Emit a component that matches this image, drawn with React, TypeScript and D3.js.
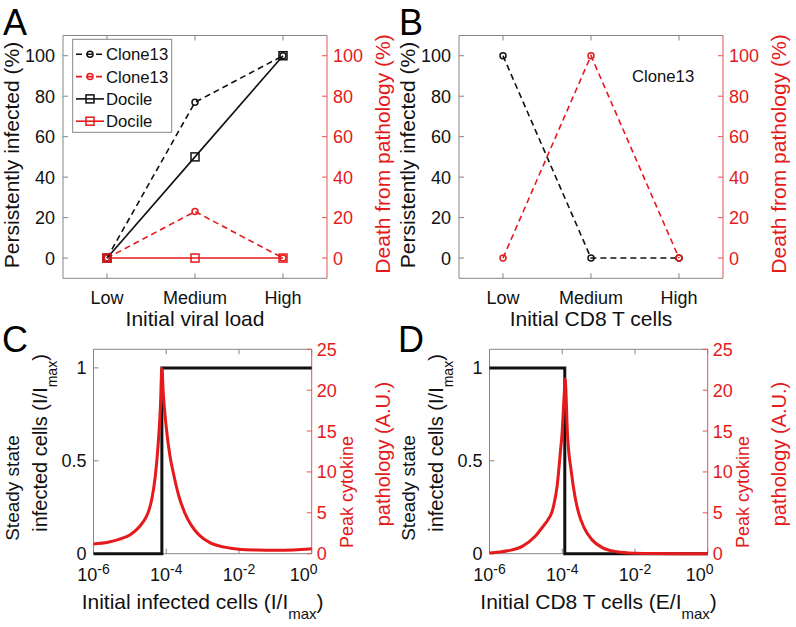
import React from "react";
import * as d3 from "d3";

// ---------- data ----------
const categories = ["Low", "Medium", "High"];
const aClone13Infected = [0, 77, 100];
const aClone13Death = [0, 23, 0];
const aDocileInfected = [0, 50, 100];
const aDocileDeath = [0, 0, 0];
const bClone13Infected = [100, 0, 0];
const bClone13Death = [0, 100, 0];
const pctTicks = [0, 20, 40, 60, 80, 100];

const logTicks = [-6, -4, -2, 0];
const steadyTicks = [0, 0.5, 1];
const cytokineTicks = [0, 5, 10, 15, 20, 25];

// panel C: initial infected cells (log10 exponent)
const cSteadyLogX = [-6, -4.12, -4.12, 0];
const cSteadyVal = [0, 0, 1, 1];
const cCytoLogX = [-6, -5.6, -5.3, -5.0, -4.8, -4.65, -4.5, -4.4, -4.3, -4.22, -4.16, -4.12, -4.08, -4.0, -3.9, -3.81, -3.65, -3.49, -3.3, -3.1, -2.8, -2.4, -2.0, -1.5, -1.0, -0.5, 0];
const cCytoVal = [1.2, 1.4, 1.75, 2.3, 3.0, 3.8, 5.0, 6.6, 9.5, 13.5, 18, 22.7, 19.5, 15.5, 12, 10, 7, 5, 3.4, 2.3, 1.35, 0.8, 0.55, 0.45, 0.42, 0.45, 0.6];

// panel D: initial CD8 T cells (log10 exponent)
const dSteadyLogX = [-6, -3.93, -3.93, 0];
const dSteadyVal = [1, 1, 0, 0];
const dCytoLogX = [-6, -5.5, -5.1, -4.75, -4.5, -4.4, -4.29, -4.23, -4.14, -4.1, -4.05, -4.0, -3.97, -3.94, -3.92, -3.9, -3.86, -3.75, -3.65, -3.55, -3.4, -3.2, -2.9, -2.5, -2.0, -1.5, 0];
const dCytoVal = [0.1, 0.35, 0.9, 2.1, 3.5, 4.1, 5, 6, 8.3, 10, 12.5, 15, 17.5, 20, 21.4, 20, 15, 10, 7, 5, 3.2, 1.8, 0.75, 0.25, 0.06, 0.01, 0];

// ---------- style ----------
const FONT = "'Liberation Sans', Arial, Helvetica, sans-serif";
const RED = "#e41a1c";
const BLACK = "#111";
const AXIS_GRAY = "#858585";
const AXIS_RED = "#e35454";
const TICK_LEN = 5;

type Series = {
  values: number[];
  axis: "left" | "right";
  color: string;
  dashed: boolean;
  marker: "circle" | "square";
  label: string;
};

function Marker({ x, y, kind, color }: { x: number; y: number; kind: string; color: string }) {
  if (kind === "circle")
    return <circle cx={x} cy={y} r={3} fill="none" stroke={color} strokeWidth={1.5} />;
  return <rect x={x - 4} y={y - 4} width={8} height={8} fill="none" stroke={color} strokeWidth={1.5} />;
}

function CategoryPanel({
  ox,
  letter,
  xLabel,
  series,
  showLegend,
  note,
}: {
  ox: number;
  letter: string;
  xLabel: string;
  series: Series[];
  showLegend: boolean;
  note?: string;
}) {
  const left = ox + 63;
  const right = ox + 327;
  const top = 35.5;
  const bottom = 278.3;
  const x = d3.scalePoint<string>().domain(categories).range([left, right]).padding(0.5);
  const yL = d3.scaleLinear().domain([-10, 110]).range([bottom, top]);
  const yR = d3.scaleLinear().domain([-10, 110]).range([bottom, top]);
  const fs = 18;
  return (
    <g fontFamily={FONT}>
      <text x={ox + 3} y={35} fontSize={36}>{letter}</text>
      <line x1={left} x2={right} y1={top} y2={top} stroke={AXIS_GRAY} />
      <line x1={left} x2={right} y1={bottom} y2={bottom} stroke={AXIS_GRAY} />
      <line x1={left} x2={left} y1={top} y2={bottom} stroke={AXIS_GRAY} />
      <line x1={right} x2={right} y1={top} y2={bottom} stroke={AXIS_RED} />
      {categories.map((c) => (
        <g key={c}>
          <line x1={x(c)} x2={x(c)} y1={bottom} y2={bottom - TICK_LEN} stroke={AXIS_GRAY} />
          <line x1={x(c)} x2={x(c)} y1={top} y2={top + TICK_LEN} stroke={AXIS_GRAY} />
          <text x={x(c)} y={304} fontSize={fs} textAnchor="middle" fill={BLACK}>{c}</text>
        </g>
      ))}
      {pctTicks.map((t) => (
        <g key={"l" + t}>
          <line x1={left} x2={left + TICK_LEN} y1={yL(t)} y2={yL(t)} stroke={AXIS_GRAY} />
          <text x={left - 8} y={yL(t) + 6.5} fontSize={fs} textAnchor="end" fill={BLACK}>{t}</text>
        </g>
      ))}
      {pctTicks.map((t) => (
        <g key={"r" + t}>
          <line x1={right} x2={right - TICK_LEN} y1={yR(t)} y2={yR(t)} stroke={AXIS_RED} />
          <text x={right + 6} y={yR(t) + 6.5} fontSize={fs} fill={RED}>{t}</text>
        </g>
      ))}
      <text x={(left + right) / 2} y={326} fontSize={21} textAnchor="middle" fill={BLACK}>{xLabel}</text>
      <text transform={`translate(${ox + 19},155) rotate(-90)`} fontSize={21} textAnchor="middle" fill={BLACK}>
        Persistently infected (%)
      </text>
      <text transform={`translate(${ox + 390},154) rotate(-90)`} fontSize={21} textAnchor="middle" fill={RED}>
        Death from pathology (%)
      </text>
      {series.map((s, i) => {
        const y = s.axis === "left" ? yL : yR;
        const line = d3
          .line<number>()
          .x((_, j) => x(categories[j]) as number)
          .y((v) => y(v));
        return (
          <g key={i}>
            <path d={line(s.values) || ""} fill="none" stroke={s.color} strokeWidth={1.6} strokeDasharray={s.dashed ? "6,4" : undefined} />
            {s.values.map((v, j) => (
              <Marker key={j} x={x(categories[j]) as number} y={y(v)} kind={s.marker} color={s.color} />
            ))}
          </g>
        );
      })}
      {showLegend && (
        <g>
          <rect x={ox + 72.7} y={39.3} width={99} height={93} fill="#fff" stroke={AXIS_GRAY} />
          {series.map((s, i) => {
            const ry = 54.3 + i * 22.3;
            return (
              <g key={"lg" + i}>
                <line x1={ox + 76} x2={ox + 104} y1={ry} y2={ry} stroke={s.color} strokeWidth={1.6} strokeDasharray={s.dashed ? "6,4" : undefined} />
                <Marker x={ox + 90} y={ry} kind={s.marker} color={s.color} />
                <text x={ox + 106} y={ry + 6} fontSize={16.7} fill={BLACK}>{s.label}</text>
              </g>
            );
          })}
        </g>
      )}
      {note && (
        <text x={ox + 236} y={81.5} fontSize={16.7} fill={BLACK}>{note}</text>
      )}
    </g>
  );
}

function LogPanel({
  ox,
  letter,
  xMain,
  steadyX,
  steadyY,
  cytoX,
  cytoY,
}: {
  ox: number;
  letter: string;
  xMain: string;
  steadyX: number[];
  steadyY: number[];
  cytoX: number[];
  cytoY: number[];
}) {
  const left = ox + 93.5;
  const right = ox + 311.7;
  const top = 349.3;
  const bottom = 553.7;
  const x = d3.scaleLog().domain([1e-6, 1]).range([left, right]);
  const yL = d3.scaleLinear().domain([0, 1.1]).range([bottom, top]);
  const yR = d3.scaleLinear().domain([0, 25]).range([bottom, top]);
  const fs = 18;
  const steadyLine = d3
    .line<number>()
    .x((_, j) => x(Math.pow(10, steadyX[j])))
    .y((v) => yL(v));
  const cytoLine = d3
    .line<number>()
    .curve(d3.curveMonotoneX)
    .x((_, j) => x(Math.pow(10, cytoX[j])))
    .y((v) => yR(v));
  return (
    <g fontFamily={FONT}>
      <text x={ox + 2} y={352} fontSize={36}>{letter}</text>
      <line x1={left} x2={right} y1={top} y2={top} stroke={AXIS_GRAY} />
      <line x1={left} x2={right} y1={bottom} y2={bottom} stroke={AXIS_GRAY} />
      <line x1={left} x2={left} y1={top} y2={bottom} stroke={AXIS_GRAY} />
      <line x1={right} x2={right} y1={top} y2={bottom} stroke={AXIS_RED} />
      {logTicks.map((e, i) => {
        const tx = x(Math.pow(10, e));
        const lx = i === logTicks.length - 1 ? tx - 8 : tx;
        return (
          <g key={"x" + e}>
            <line x1={tx} x2={tx} y1={bottom} y2={bottom - TICK_LEN} stroke={AXIS_GRAY} />
            <line x1={tx} x2={tx} y1={top} y2={top + TICK_LEN} stroke={AXIS_GRAY} />
            <text x={lx} y={581} fontSize={fs} textAnchor="middle" fill={BLACK}>
              10<tspan dy={-7} fontSize={14}>{String(e)}</tspan>
            </text>
          </g>
        );
      })}
      {steadyTicks.map((t) => (
        <g key={"l" + t}>
          <line x1={left} x2={left + TICK_LEN} y1={yL(t)} y2={yL(t)} stroke={AXIS_GRAY} />
          <text x={left - 7} y={yL(t) + 6.5} fontSize={fs} textAnchor="end" fill={BLACK}>{t}</text>
        </g>
      ))}
      {cytokineTicks.map((t) => (
        <g key={"r" + t}>
          <line x1={right} x2={right - TICK_LEN} y1={yR(t)} y2={yR(t)} stroke={AXIS_RED} />
          <text x={right + 5} y={yR(t) + 6.5} fontSize={fs} fill={RED}>{t}</text>
        </g>
      ))}
      <text x={(left + right) / 2} y={609} fontSize={21} textAnchor="middle" fill={BLACK}>
        {xMain}<tspan dy={10} fontSize={15}>max</tspan><tspan dy={-10}>)</tspan>
      </text>
      <text transform={`translate(${ox + 18.5},488) rotate(-90)`} fontSize={19} textAnchor="middle" fill={BLACK}>
        Steady state
      </text>
      <text transform={`translate(${ox + 47},443) rotate(-90)`} fontSize={20} textAnchor="middle" fill={BLACK}>
        infected cells (I/I<tspan dy={10} fontSize={14}>max</tspan><tspan dy={-10}>)</tspan>
      </text>
      <text transform={`translate(${ox + 353},492) rotate(-90)`} fontSize={18} textAnchor="middle" fill={RED}>
        Peak cytokine
      </text>
      <text transform={`translate(${ox + 390},454) rotate(-90)`} fontSize={20} textAnchor="middle" fill={RED}>
        pathology (A.U.)
      </text>
      <path d={steadyLine(steadyY) || ""} fill="none" stroke={BLACK} strokeWidth={3} />
      <path d={cytoLine(cytoY) || ""} fill="none" stroke={RED} strokeWidth={3} />
    </g>
  );
}

export default function App() {
  const seriesA: Series[] = [
    { values: aClone13Infected, axis: "left", color: BLACK, dashed: true, marker: "circle", label: "Clone13" },
    { values: aClone13Death, axis: "right", color: RED, dashed: true, marker: "circle", label: "Clone13" },
    { values: aDocileInfected, axis: "left", color: BLACK, dashed: false, marker: "square", label: "Docile" },
    { values: aDocileDeath, axis: "right", color: RED, dashed: false, marker: "square", label: "Docile" },
  ];
  const seriesB: Series[] = [
    { values: bClone13Infected, axis: "left", color: BLACK, dashed: true, marker: "circle", label: "Clone13" },
    { values: bClone13Death, axis: "right", color: RED, dashed: true, marker: "circle", label: "Clone13" },
  ];
  return (
    <svg
      width={796}
      height={627}
      style={{ position: "absolute", left: 0, top: 0, background: "#fff" }}
    >
      <rect width={796} height={627} fill="#fff" />
      <CategoryPanel ox={0} letter="A" xLabel="Initial viral load" series={seriesA} showLegend={true} />
      <CategoryPanel ox={396} letter="B" xLabel="Initial CD8 T cells" series={seriesB} showLegend={false} note="Clone13" />
      <LogPanel ox={0} letter="C" xMain="Initial infected cells (I/I" steadyX={cSteadyLogX} steadyY={cSteadyVal} cytoX={cCytoLogX} cytoY={cCytoVal} />
      <LogPanel ox={396} letter="D" xMain="Initial CD8 T cells (E/I" steadyX={dSteadyLogX} steadyY={dSteadyVal} cytoX={dCytoLogX} cytoY={dCytoVal} />
    </svg>
  );
}
